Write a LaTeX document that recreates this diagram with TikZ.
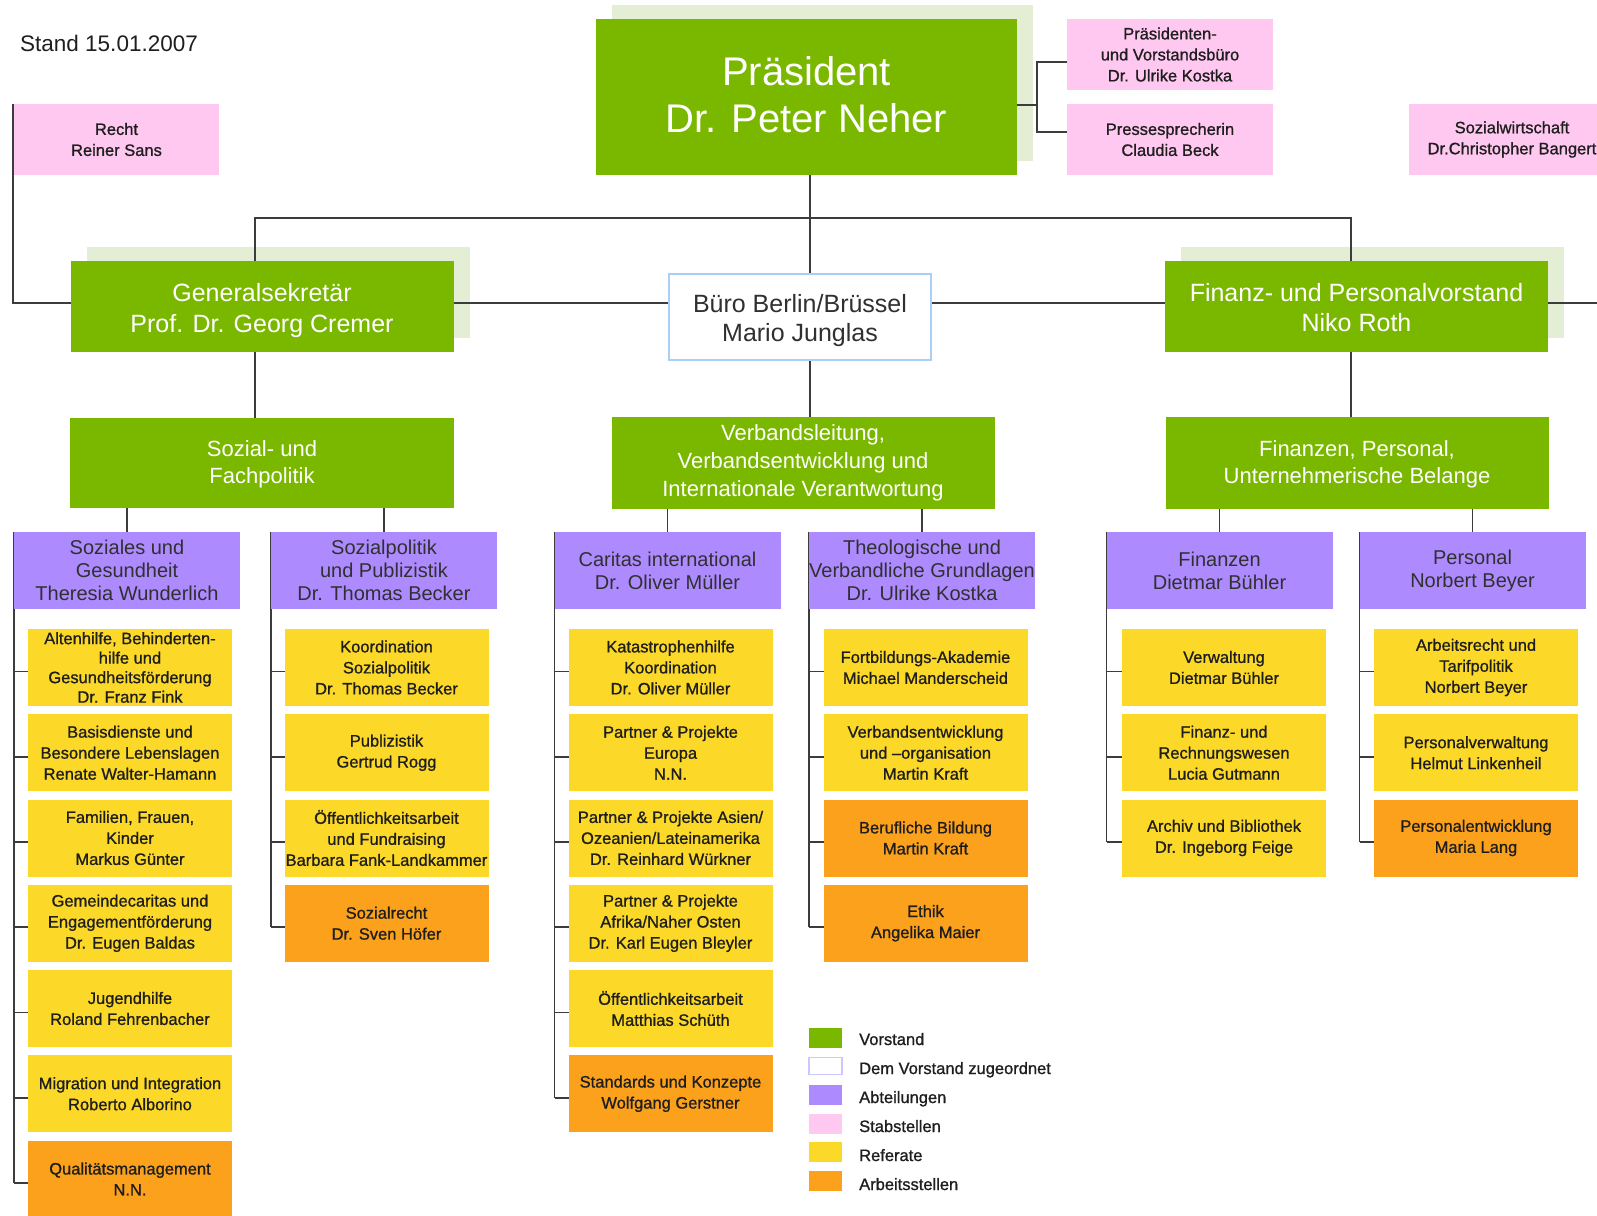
\documentclass[tikz,border=0pt]{standalone}
\usepackage{fontspec}
\setmainfont{Liberation Sans}
\newfontfamily\smallfont[FakeBold=1]{Liberation Sans}
\usetikzlibrary{calc}
\definecolor{vgreen}{HTML}{7AB800}
\definecolor{shgreen}{HTML}{E3EED5}
\definecolor{abtc}{HTML}{AE8AFF}
\definecolor{stabc}{HTML}{FFC8F0}
\definecolor{refc}{HTML}{FCD928}
\definecolor{arbc}{HTML}{FBA11C}
\definecolor{linec}{HTML}{3C3C3C}
\definecolor{bborder}{HTML}{A9CFF5}
\definecolor{lgborder}{HTML}{CFC6FF}
\definecolor{txtdark}{HTML}{1E1E1E}
\definecolor{purtext}{HTML}{303030}
\newcommand{\fsz}[2]{\fontsize{#1}{#2}\selectfont}
\newcommand{\smallf}{\smallfont\fontsize{16.5}{21}\selectfont}
\pgfdeclarelayer{bg}
\pgfdeclarelayer{shad}
\pgfdeclarelayer{lines}
\pgfsetlayers{bg,shad,lines,main}
\tikzset{
  conn/.style={draw=linec, line width=1.8pt},
  base/.style={inner sep=0pt, outer sep=0pt, align=center},
  vst/.style={base, fill=vgreen, text=white},
  vrow2/.style={vst, minimum width=383pt, minimum height=91pt, font=\fsz{25}{30}},
  vrow3/.style={vst, minimum width=383pt, minimum height=91pt, font=\fsz{22}{27.5}},
  abt/.style={base, fill=abtc, text=purtext, minimum width=226pt, minimum height=77pt, font=\fsz{20}{23}},
  refb/.style={base, fill=refc, text=txtdark, minimum width=204pt, minimum height=77pt, font=\smallf},
  arbb/.style={refb, fill=arbc},
  stabb/.style={base, fill=stabc, text=txtdark, minimum width=206pt, minimum height=71pt, font=\smallf},
  lgsq/.style={base, minimum width=33pt, minimum height=20pt},
  lgtxt/.style={inner sep=0pt, anchor=base west, text=txtdark, font=\smallf}
}
\begin{document}
\begin{tikzpicture}[x=1pt,y=-1pt]
\useasboundingbox (0,0) rectangle (1597,1215);
\begin{pgfonlayer}{bg}
\fill[white] (0,0) rectangle (1597,1215);
\end{pgfonlayer}
\clip (0,0) rectangle (1597,1215);

% date
\node[inner sep=0pt, anchor=base west, text=txtdark, font=\fsz{22.5}{27}] (stand) at (20,52) {Stand 15.01.2007};

% top
\node[vst, minimum width=421pt, minimum height=156pt, font=\fsz{40}{47}] (praes) at (806.5,97) {Präsident\\Dr. Peter Neher\rule[-5pt]{0pt}{5pt}};
\node[stabb] (pvb) at (1170,54.5) {Präsidenten-\\und Vorstandsbüro\\Dr. Ulrike Kostka};
\node[stabb] (presse) at (1170,139.5) {Pressesprecherin\\Claudia Beck};
\node[stabb] (sozw) at (1512,139.5) {Sozialwirtschaft\\Dr.Christopher Bangert};
\node[stabb, minimum width=205pt] (recht) at (116.5,139.5) {Recht\\Reiner Sans};

% row 2
\node[vrow2, font=\fsz{25}{31}] (gen) at (262,306.5) {\rule{0pt}{27pt}Generalsekretär\\Prof. Dr. Georg Cremer};
\node[base, fill=white, draw=bborder, line width=1.5pt, text=purtext, minimum width=262pt, minimum height=86pt, font=\fsz{25}{29}] (buero) at (800,317) {\rule{0pt}{26pt}Büro Berlin/Brüssel\\Mario Junglas};
\node[vrow2] (fin) at (1356.5,306.5) {\rule{0pt}{21pt}Finanz- und Personalvorstand\\Niko Roth};

% row 3
\node[vrow3, minimum width=384pt, minimum height=90pt] (sfp) at (262,463) {\rule{0pt}{19pt}Sozial- und\\Fachpolitik};
\node[vrow3, minimum height=92pt, font=\fsz{22}{28}] (vl) at (803,463) {Verbandsleitung,\\Verbandsentwicklung und\\Internationale Verantwortung};
\node[vrow3, minimum height=92pt] (fpu) at (1357,463) {\rule{0pt}{19pt}Finanzen, Personal,\\Unternehmerische Belange};

% departments
\node[abt] (d1) at (127,570.5) {Soziales und\\Gesundheit\\Theresia Wunderlich};
\node[abt] (d2) at (384,570.5) {Sozialpolitik\\und Publizistik\\Dr. Thomas Becker};
\node[abt] (d3) at (667.5,570.5) {Caritas international\\Dr. Oliver Müller};
\node[abt] (d4) at (922,570.5) {Theologische und\\Verbandliche Grundlagen\\Dr. Ulrike Kostka};
\node[abt] (d5) at (1219.5,570.5) {Finanzen\\Dietmar Bühler};
\node[abt] (d6) at (1472.5,570.5) {Personal\\Norbert Beyer};

% column 1
\node[refb, font=\smallfont\fsz{16.5}{19.5}] (c11) at (130,667.5) {Altenhilfe, Behinderten-\\hilfe und\\Gesundheitsförderung\\Dr. Franz Fink};
\node[refb] (c12) at (130,752.75) {Basisdienste und\\Besondere Lebenslagen\\Renate Walter-Hamann};
\node[refb] (c13) at (130,838) {Familien, Frauen,\\Kinder\\Markus Günter};
\node[refb] (c14) at (130,923.25) {Gemeindecaritas und\\Engagementförderung\\Dr. Eugen Baldas};
\node[refb] (c15) at (130,1008.5) {Jugendhilfe\\Roland Fehrenbacher};
\node[refb] (c16) at (130,1093.75) {Migration und Integration\\Roberto Alborino};
\node[arbb] (c17) at (130,1179) {Qualitätsmanagement\\N.N.};

% column 2
\node[refb] (c21) at (386.5,667.5) {Koordination\\Sozialpolitik\\Dr. Thomas Becker};
\node[refb] (c22) at (386.5,752.75) {Publizistik\\Gertrud Rogg};
\node[refb] (c23) at (386.5,838) {Öffentlichkeitsarbeit\\und Fundraising\\Barbara Fank-Landkammer};
\node[arbb] (c24) at (386.5,923.25) {Sozialrecht\\Dr. Sven Höfer};

% column 3
\node[refb] (c31) at (670.5,667.5) {Katastrophenhilfe\\Koordination\\Dr. Oliver Müller};
\node[refb] (c32) at (670.5,752.75) {Partner \& Projekte\\Europa\\N.N.};
\node[refb] (c33) at (670.5,838) {Partner \& Projekte Asien/\\Ozeanien/Lateinamerika\\Dr. Reinhard Würkner};
\node[refb] (c34) at (670.5,923.25) {Partner \& Projekte\\Afrika/Naher Osten\\Dr. Karl Eugen Bleyler};
\node[refb] (c35) at (670.5,1008.5) {Öffentlichkeitsarbeit\\Matthias Schüth};
\node[arbb] (c36) at (670.5,1093.75) {Standards und Konzepte\\Wolfgang Gerstner};

% column 4
\node[refb] (c41) at (925.5,667.5) {Fortbildungs-Akademie\\Michael Manderscheid};
\node[refb] (c42) at (925.5,752.75) {Verbandsentwicklung\\und –organisation\\Martin Kraft};
\node[arbb] (c43) at (925.5,838) {Berufliche Bildung\\Martin Kraft};
\node[arbb] (c44) at (925.5,923.25) {Ethik\\Angelika Maier};

% column 5
\node[refb] (c51) at (1224,667.5) {Verwaltung\\Dietmar Bühler};
\node[refb] (c52) at (1224,752.75) {Finanz- und\\Rechnungswesen\\Lucia Gutmann};
\node[refb] (c53) at (1224,838) {Archiv und Bibliothek\\Dr. Ingeborg Feige};

% column 6
\node[refb] (c61) at (1476,667.5) {Arbeitsrecht und\\Tarifpolitik\\Norbert Beyer};
\node[refb] (c62) at (1476,752.75) {Personalverwaltung\\Helmut Linkenheil};
\node[arbb] (c63) at (1476,838) {Personalentwicklung\\Maria Lang};

% legend
\node[lgsq, fill=vgreen] (lg1) at (825.5,1038) {};
\node[lgsq, fill=white, draw=lgborder, line width=1.5pt, minimum height=17pt] (lg2) at (825.5,1066) {};
\node[lgsq, fill=abtc] (lg3) at (825.5,1095) {};
\node[lgsq, fill=stabc] (lg4) at (825.5,1124) {};
\node[lgsq, fill=refc] (lg5) at (825.5,1152) {};
\node[lgsq, fill=arbc] (lg6) at (825.5,1181) {};
\node[lgtxt] (lt1) at (859,1045) {Vorstand};
\node[lgtxt] (lt2) at (859,1074) {Dem Vorstand zugeordnet};
\node[lgtxt] (lt3) at (859,1103) {Abteilungen};
\node[lgtxt] (lt4) at (859,1132) {Stabstellen};
\node[lgtxt] (lt5) at (859,1161) {Referate};
\node[lgtxt] (lt6) at (859,1190) {Arbeitsstellen};

% shadows
\begin{pgfonlayer}{shad}
\foreach \n in {praes,gen,fin}{
  \fill[shgreen] ($(\n.south west)+(16,-14)$) rectangle ($(\n.north east)+(16,-14)$);
}
\end{pgfonlayer}

% connectors
\begin{pgfonlayer}{lines}
\coordinate (hbl) at (255,218);
\coordinate (hbr) at (1351,218);
\coordinate (mx) at (810,218);
\coordinate (hl) at (13,303);
\coordinate (hr) at (1597,303);
\coordinate (pj) at (1037,105);
\coordinate (pjt) at (1037,62);
\coordinate (pjb) at (1037,132);
\draw[conn] (hbl |- gen.north) -- (hbl) -- (hbr) -- (hbr |- fin.north);
\draw[conn] (mx |- praes.south) -- (mx |- buero.north);
\draw[conn] (mx |- buero.south) -- (mx |- vl.north);
\draw[conn] (hbl |- gen.south) -- (hbl |- sfp.north);
\draw[conn] (hbr |- fin.south) -- (hbr |- fpu.north);
\draw[conn] (recht.north west -| hl) -- (hl) -- (hr);
\draw[conn] (praes.east |- pj) -- (pj);
\draw[conn] (pvb.west |- pjt) -- (pjt) -- (pjb) -- (presse.west |- pjb);
\draw[conn] (d1.north |- sfp.south) -- (d1.north);
\draw[conn] (d2.north |- sfp.south) -- (d2.north);
\draw[conn] (d3.north |- vl.south) -- (d3.north);
\draw[conn] (d4.north |- vl.south) -- (d4.north);
\draw[conn] (d5.north |- fpu.south) -- (d5.north);
\draw[conn] (d6.north |- fpu.south) -- (d6.north);
\foreach \c in {c11,c12,c13,c14,c15,c16,c17,c21,c22,c23,c24,c31,c32,c33,c34,c35,c36,c41,c42,c43,c44,c51,c52,c53,c61,c62,c63}{
  \coordinate (s\c) at ($(\c.west)+(0,4)$);
}
\foreach \c in {c11,c12,c13,c14,c15,c16,c17}{\draw[conn] (s\c) -- (s\c -| d1.north west);}
\foreach \c in {c21,c22,c23,c24}{\draw[conn] (s\c) -- (s\c -| d2.north west);}
\foreach \c in {c31,c32,c33,c34,c35,c36}{\draw[conn] (s\c) -- (s\c -| d3.north west);}
\foreach \c in {c41,c42,c43,c44}{\draw[conn] (s\c) -- (s\c -| d4.north west);}
\foreach \c in {c51,c52,c53}{\draw[conn] (s\c) -- (s\c -| d5.north west);}
\foreach \c in {c61,c62,c63}{\draw[conn] (s\c) -- (s\c -| d6.north west);}
\draw[conn] (d1.north west) -- (sc17 -| d1.north west);
\draw[conn] (d2.north west) -- (sc24 -| d2.north west);
\draw[conn] (d3.north west) -- (sc36 -| d3.north west);
\draw[conn] (d4.north west) -- (sc44 -| d4.north west);
\draw[conn] (d5.north west) -- (sc53 -| d5.north west);
\draw[conn] (d6.north west) -- (sc63 -| d6.north west);
\end{pgfonlayer}
\end{tikzpicture}
\end{document}
